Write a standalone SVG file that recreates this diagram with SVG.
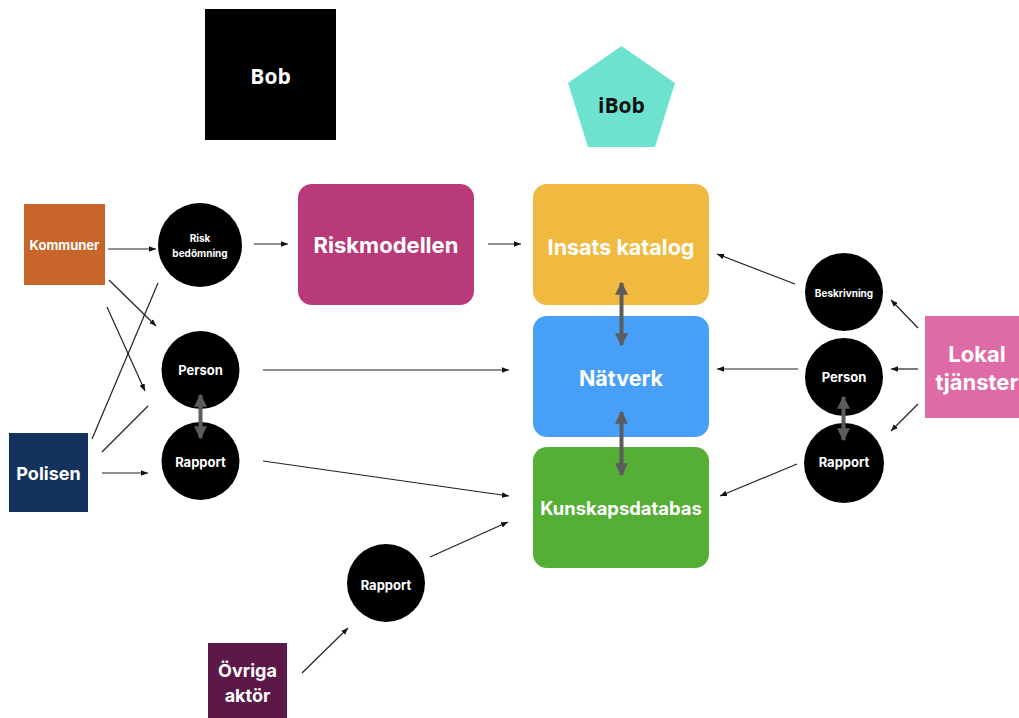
<svg xmlns="http://www.w3.org/2000/svg" width="1019" height="718" viewBox="0 0 1019 718">
  <defs>
    <marker id="ah" viewBox="0 0 10 10" refX="10" refY="5" markerWidth="7" markerHeight="7" markerUnits="userSpaceOnUse" orient="auto">
      <path d="M0,1 L10,5 L0,9 z" fill="#111"/>
    </marker>
    <marker id="gh" viewBox="0 0 10 10" refX="9" refY="5" markerWidth="13" markerHeight="13" markerUnits="userSpaceOnUse" orient="auto-start-reverse">
      <path d="M0,0 L10,5 L0,10 z" fill="#5c5c5c"/>
    </marker>
  </defs>
  <style>
    text { font-family: Inter, "Liberation Sans", sans-serif; font-weight: 700; fill: #fff; text-anchor: middle; dominant-baseline: central; }
    .thin { stroke: #222; stroke-width: 1.2; fill: none; }
    .arr { marker-end: url(#ah); }
    .dbl { stroke: #5c5c5c; stroke-width: 4; fill: none; marker-start: url(#gh); marker-end: url(#gh); }
    .dot { fill: #000; }
    .box { rx: 14; ry: 14; }
  </style>
  <rect width="1019" height="718" fill="#fff"/>

  <g id="bob">
    <rect x="205" y="9" width="131" height="131" fill="#000"/>
    <text x="270.5" y="76" style="font-family:'Open Sans',Inter,sans-serif;font-size:21px">Bob</text>
  </g>
  <g id="ibob">
    <polygon points="621.5,46 675,83 655,147 588,147 568,83" fill="#6de3cf"/>
    <text x="621.5" y="105" style="font-family:'Open Sans',Inter,sans-serif;font-size:21px;fill:#111">iBob</text>
  </g>

  <g id="kommuner">
    <rect x="24" y="204" width="81" height="81" fill="#c8652a"/>
    <text x="64.5" y="245" style="font-size:13px">Kommuner</text>
  </g>
  <g id="polisen">
    <rect x="9" y="433" width="79" height="79" fill="#14325e"/>
    <text x="48.5" y="473" style="font-size:18px">Polisen</text>
  </g>
  <g id="ovriga">
    <rect x="208" y="643" width="79" height="75" fill="#5c1846"/>
    <text x="247.5" y="670" style="font-size:18px">Övriga</text>
    <text x="247.5" y="695" style="font-size:18px">aktör</text>
  </g>

  <g id="riskbedomning">
    <circle class="dot" cx="200" cy="245" r="42"/>
    <text x="200" y="238" style="font-size:10px">Risk</text>
    <text x="200" y="253" style="font-size:10px">bedömning</text>
  </g>
  <g id="person-left">
    <circle class="dot" cx="200.5" cy="370" r="39"/>
    <text x="200.5" y="370" style="font-size:13px">Person</text>
  </g>
  <g id="rapport-left">
    <circle class="dot" cx="200.5" cy="461" r="39"/>
    <text x="200.5" y="462" style="font-size:13px">Rapport</text>
  </g>
  <g id="rapport-bottom">
    <circle class="dot" cx="386" cy="583" r="39"/>
    <text x="386" y="585" style="font-size:13px">Rapport</text>
  </g>

  <g id="riskmodellen">
    <rect class="box" x="298" y="184" width="176" height="121" fill="#b93a78"/>
    <text x="386" y="245" style="font-size:22px">Riskmodellen</text>
  </g>
  <g id="insats">
    <rect class="box" x="533" y="184" width="176" height="121" fill="#f0ba40"/>
    <text x="621" y="247" style="font-size:21.5px">Insats katalog</text>
  </g>
  <g id="natverk">
    <rect class="box" x="533" y="316" width="176" height="121" fill="#479ff8"/>
    <text x="621" y="378" style="font-size:21.5px">Nätverk</text>
  </g>
  <g id="kunskapsdatabas">
    <rect class="box" x="533" y="447" width="176" height="121" fill="#55ae35"/>
    <text x="621" y="508" style="font-size:18.4px">Kunskapsdatabas</text>
  </g>

  <g id="beskrivning">
    <circle class="dot" cx="844" cy="292" r="39"/>
    <text x="844" y="293" style="font-size:10px">Beskrivning</text>
  </g>
  <g id="person-right">
    <circle class="dot" cx="844" cy="377" r="39"/>
    <text x="844" y="377" style="font-size:13px">Person</text>
  </g>
  <g id="rapport-right">
    <circle class="dot" cx="844" cy="463" r="40"/>
    <text x="844" y="462" style="font-size:13px">Rapport</text>
  </g>

  <g id="lokal">
    <rect x="925" y="316" width="94" height="102" fill="#de6aa6"/>
    <text x="977" y="354" style="font-size:22px">Lokal</text>
    <text x="977" y="382" style="font-size:22px">tjänster</text>
  </g>

  <!-- connectors, drawn last so the grey two-way links sit over the shapes -->
  <g id="connectors">
    <line class="thin arr" x1="108" y1="249" x2="156" y2="249"/>
    <line class="thin arr" x1="254" y1="244" x2="288" y2="244"/>
    <line class="thin arr" x1="488" y1="244" x2="521" y2="244"/>
    <line class="thin arr" x1="109" y1="280" x2="156" y2="326"/>
    <line class="thin arr" x1="107" y1="307" x2="145" y2="391"/>
    <line class="thin" x1="92" y1="439" x2="158" y2="283"/>
    <line class="thin" x1="102" y1="452" x2="148" y2="406"/>
    <line class="thin arr" x1="102" y1="473" x2="148" y2="473"/>
    <line class="thin arr" x1="263" y1="370" x2="509" y2="370"/>
    <line class="thin arr" x1="263" y1="461" x2="509" y2="496"/>
    <line class="thin arr" x1="430" y1="557" x2="508" y2="522"/>
    <line class="thin arr" x1="302" y1="673" x2="348" y2="628"/>
    <line class="thin arr" x1="795" y1="284" x2="717" y2="254"/>
    <line class="thin arr" x1="798" y1="369" x2="717" y2="369"/>
    <line class="thin arr" x1="797" y1="464" x2="720" y2="496"/>
    <line class="thin arr" x1="918" y1="328" x2="891" y2="300"/>
    <line class="thin arr" x1="918" y1="369" x2="891" y2="369"/>
    <line class="thin arr" x1="918" y1="404" x2="891" y2="431"/>
    <line class="dbl" x1="621.5" y1="283" x2="621.5" y2="345"/>
    <line class="dbl" x1="621.5" y1="412" x2="621.5" y2="475"/>
    <line class="dbl" x1="200.5" y1="395" x2="200.5" y2="438"/>
    <line class="dbl" x1="843.5" y1="397" x2="843.5" y2="440"/>
  </g>
</svg>
